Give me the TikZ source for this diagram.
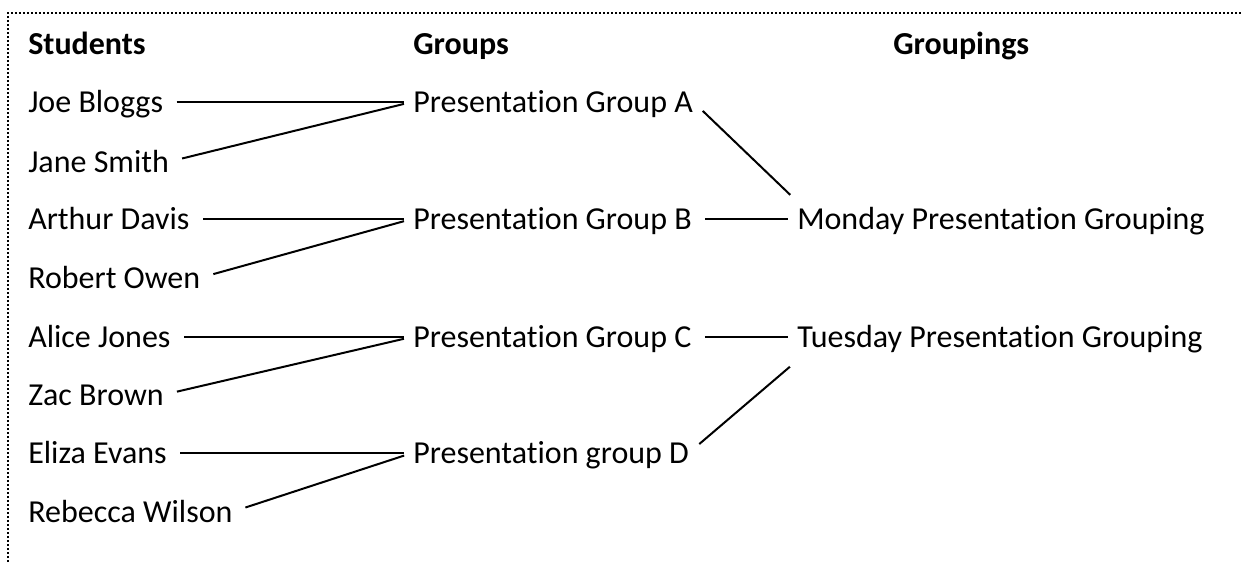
\documentclass[tikz,border=0pt]{standalone}
\usepackage{fontspec}
\setmainfont{Carlito}[Ligatures={NoCommon,NoRare}]
\tikzset{
    label/.style={anchor=base west, inner sep=0pt, text height=15.5pt, text depth=0pt, font=\fontsize{24pt}{28pt}\selectfont},
    head/.style={label, font=\fontsize{24pt}{28pt}\selectfont\bfseries},
    link/.style={line width=1.5pt, shorten <=10pt, shorten >=7pt}
}
\begin{document}
\begin{tikzpicture}[x=0.75pt, y=-0.75pt]
    \useasboundingbox (0,0) rectangle (1243,562);
    \draw[line width=1.4pt, dash pattern=on 1.4pt off 1.6pt] (8,562) -- (8,13) -- (1243,13); %frame
    % column titles
    \node[head] (hstud) at (28,54) {Students};
    \node[head] (hgrp) at (413,54) {Groups};
    \node[head] (hgrpg) at (893,54) {Groupings};
    % students
    \node[label] (joe) at (28,112) {Joe Bloggs};
    \node[label] (jane) at (28,172) {Jane Smith};
    \node[label] (arthur) at (28,229) {Arthur Davis};
    \node[label] (robert) at (28,288) {Robert Owen};
    \node[label] (alice) at (28,347) {Alice Jones};
    \node[label] (zac) at (28,405) {Zac Brown};
    \node[label] (eliza) at (28,463) {Eliza Evans};
    \node[label] (rebecca) at (28,522) {Rebecca Wilson};
    % groups
    \node[label] (grpA) at (413,112) {Presentation Group A};
    \node[label] (grpB) at (413,229) {Presentation Group B};
    \node[label] (grpC) at (413,347) {Presentation Group C};
    \node[label] (grpD) at (413,463) {Presentation group D};
    % groupings
    \node[label] (monday) at (797,229) {Monday Presentation Grouping};
    \node[label] (tuesday) at (797,347) {Tuesday Presentation Grouping};
    % students to groups
    \draw[link] (joe.east) -- (grpA.west);
    \draw[link] (jane.east) -- (grpA.west);
    \draw[link] (arthur.east) -- (grpB.west);
    \draw[link] (robert.east) -- (grpB.west);
    \draw[link] (alice.east) -- (grpC.west);
    \draw[link] (zac.east) -- (grpC.west);
    \draw[link] (eliza.east) -- (grpD.west);
    \draw[link] (rebecca.east) -- (grpD.west);
    % groups to groupings
    \draw[link] (grpA.east) -- ([yshift=13pt]monday.west);
    \draw[link] (grpB.east) -- (monday.west);
    \draw[link] (grpC.east) -- (tuesday.west);
    \draw[link] (grpD.east) -- ([yshift=-18pt]tuesday.west);
\end{tikzpicture}
\end{document}
